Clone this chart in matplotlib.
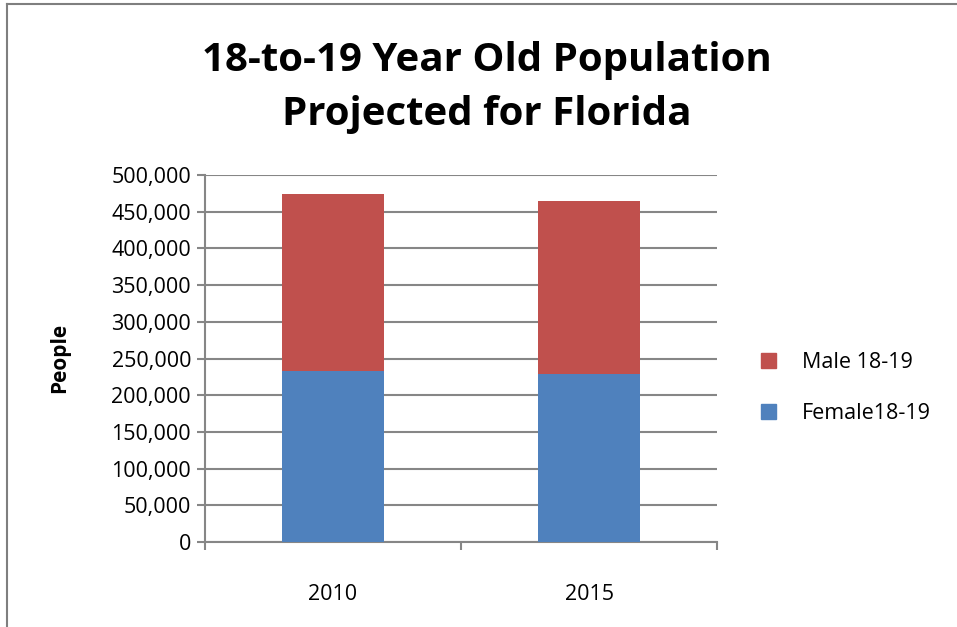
import matplotlib
matplotlib.use("Agg")
import matplotlib.pyplot as plt
from matplotlib.lines import Line2D
from matplotlib.patches import Patch
from matplotlib.ticker import FuncFormatter, MultipleLocator

years = ["2010", "2015"]
female = [233000, 228700]
male = [241100, 236300]
series_names = ["Male 18-19", "Female18-19"]
title = "18-to-19 Year Old Population\nProjected for Florida"
ylabel = "People"

blue = "#4F81BD"
red = "#C0504D"
grid = "#868686"

plt.rcParams['font.family'] = ['Open Sans', 'DejaVu Sans']

W, H = 957, 627
fig = plt.figure(figsize=(W/100, H/100), dpi=100)
ax = fig.add_axes([205/W, 1-542/H, (717-205)/W, (542-175)/H])

x = list(range(len(years)))
ax.bar(x, female, width=0.4, color=blue, zorder=3)
ax.bar(x, male, width=0.4, bottom=female, color=red, zorder=3)

ax.set_xlim(-0.5, 1.5)
ax.set_ylim(0, 500000)
ax.yaxis.set_major_locator(MultipleLocator(50000))
ax.yaxis.set_major_formatter(FuncFormatter(lambda v, p: f"{int(v):,}"))
ax.grid(axis='y', color=grid, linewidth=1.5, zorder=0)
ax.set_xticks(x)
ax.set_xticklabels(years)
ax.set_xticks([-0.5, 0.5, 1.5], minor=True)
ax.tick_params(axis='x', which='major', length=0, pad=30, labelsize=15.5)
ax.tick_params(axis='x', which='minor', length=6, color=grid, width=1.5)
ax.tick_params(axis='y', length=6, color=grid, width=1.5, labelsize=15.5, pad=4)
for s in ['top', 'right']:
    ax.spines[s].set_visible(False)
for s in ['left', 'bottom']:
    ax.spines[s].set_color(grid)
    ax.spines[s].set_linewidth(1.5)

fig.text(60/W, 1-358/H, ylabel, rotation=90, ha='center', va='center',
         fontsize=15, fontweight='bold')
fig.text(487/W, 1-87/H, title, ha='center', va='center', fontsize=29,
         fontweight='bold', linespacing=1.5)

handles = [Patch(color=red), Patch(color=blue)]
fig.legend(handles, series_names, loc='center left',
           bbox_to_anchor=(742/W, 1-388/H), frameon=False, fontsize=15.5,
           handlelength=0.7, handleheight=0.7, handletextpad=1.2,
           labelspacing=1.4)

fig.add_artist(Line2D([7/W, 7/W], [0, 1-4/H], color='#7f7f7f', linewidth=1.5,
                      transform=fig.transFigure))
fig.add_artist(Line2D([7/W, 1], [1-4/H, 1-4/H], color='#7f7f7f', linewidth=1.5,
                      transform=fig.transFigure))

fig.savefig("out.png", dpi=100)
